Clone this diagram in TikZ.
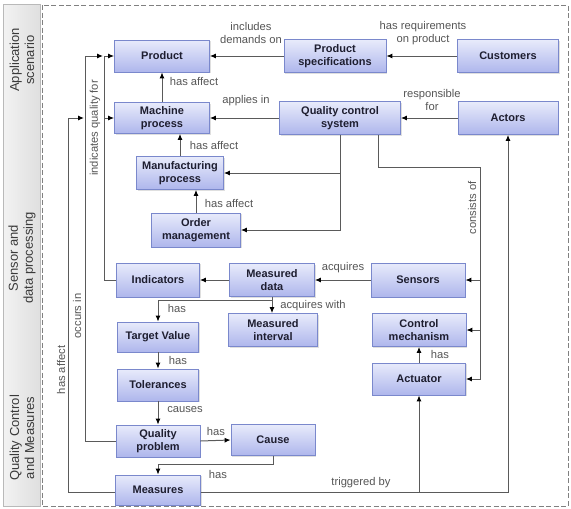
\documentclass[tikz,border=0pt]{standalone}
\usepackage{fontspec}
\setmainfont{Liberation Sans}
\usetikzlibrary{arrows.meta,shadows,calc}
\definecolor{nodeborder}{HTML}{7A88CC}
\definecolor{nodetop}{HTML}{E8EBFB}
\definecolor{nodebot}{HTML}{AEB6EC}
\definecolor{linecol}{HTML}{5A5A5A}
\definecolor{labcol}{HTML}{555555}
\definecolor{txtcol}{HTML}{1E1E30}
\definecolor{bandtxt}{HTML}{3A3A3A}
\tikzset{
  box/.style={draw=nodeborder, line width=0.8pt, top color=nodetop, bottom color=nodebot,
    align=center, inner sep=1pt, font=\fontsize{11}{12.8}\selectfont\bfseries, text=txtcol,
    drop shadow={opacity=0.25, shadow xshift=1.2pt, shadow yshift=-1.2pt}},
  arr/.style={draw=linecol, line width=1pt, -{Latex[length=6pt,width=5pt,color=black]}},
  lab/.style={font=\fontsize{11.2}{13}\selectfont, text=labcol, align=center, inner sep=1pt},
  sectxt/.style={font=\fontsize{13}{15}\selectfont, text=bandtxt, rotate=90, align=center},
}
\begin{document}
\begin{tikzpicture}[x=1pt,y=-1pt]
\useasboundingbox (0,0) rectangle (571,509);
% band and frame
\draw[draw=gray!55, left color=gray!10, right color=gray!25] (3,4) rectangle (40,506);
\draw[gray, line width=0.9pt, dash pattern=on 5pt off 2.5pt] (42,5) rectangle (568,506);
\node[sectxt] (s1) at (22,60) {Application\\scenario};
\node[sectxt] (s2) at (22,258) {Sensor and\\data processing};
\node[sectxt] (s3) at (22,438) {Quality Control\\and Measures};

% nodes
\node[box, minimum width=95pt, minimum height=32pt] (prod) at (162,56) {Product};
\node[box, minimum width=102pt, minimum height=33pt] (pspec) at (335,56) {Product\\specifications};
\node[box, minimum width=101pt, minimum height=33pt] (cust) at (508,56) {Customers};
\node[box, minimum width=95pt, minimum height=31pt] (mach) at (162,118) {Machine\\process};
\node[box, minimum width=121pt, minimum height=33pt] (qcs) at (340,118) {Quality control\\system};
\node[box, minimum width=100pt, minimum height=33pt] (act) at (508,118) {Actors};
\node[box, minimum width=87pt, minimum height=33pt] (manuf) at (180,173) {Manufacturing\\process};
\node[box, minimum width=89pt, minimum height=34pt] (order) at (196,230) {Order\\management};
\node[box, minimum width=83pt, minimum height=34pt] (ind) at (158,280) {Indicators};
\node[box, minimum width=85pt, minimum height=33pt] (mdata) at (272,280) {Measured\\data};
\node[box, minimum width=94pt, minimum height=34pt] (sens) at (418,280) {Sensors};
\node[box, minimum width=81pt, minimum height=30pt] (target) at (158,337) {Target Value};
\node[box, minimum width=89pt, minimum height=33pt] (minterv) at (273,330) {Measured\\interval};
\node[box, minimum width=94pt, minimum height=33pt] (ctrl) at (419,330) {Control\\mechanism};
\node[box, minimum width=81pt, minimum height=32pt] (tol) at (158,385) {Tolerances};
\node[box, minimum width=93pt, minimum height=32pt] (actu) at (419,379) {Actuator};
\node[box, minimum width=84pt, minimum height=32pt] (qp) at (158,441) {Quality\\problem};
\node[box, minimum width=84pt, minimum height=31pt] (cause) at (273,440) {Cause};
\node[box, minimum width=85pt, minimum height=30pt] (meas) at (158,490) {Measures};

% helper coordinates
\coordinate (occend) at (103,56);
\coordinate (haend) at (84,118);
\coordinate (cc) at (480,167);
\coordinate (mright) at ($(meas.east)+(0,2)$);
\coordinate (mleft) at ($(meas.west)+(0,2)$);

% connectors
\draw[arr] (pspec.west) -- (prod.east);
\draw[arr] (cust.west) -- (pspec.east);
\draw[arr] (mach.north) -- (prod.south);
\draw[arr] (qcs.west) -- (mach.east);
\draw[arr] (act.west) -- (qcs.east);
\draw[arr] (manuf.north) -- (manuf.north |- mach.south);
\draw[arr] (order.north) -- (order.north |- manuf.south);
\draw[arr] (qcs.south) |- (order.east);
\draw[arr] (qcs.south |- manuf.east) -- (manuf.east);
\draw[arr] ($(qcs.south)+(38,0)$) |- (cc) |- (actu.east);
\draw[arr] (cc |- sens.east) -- (sens.east);
\draw[arr] (cc |- ctrl.east) -- (ctrl.east);
\draw[arr] (mright) -| (act.south);
\draw[arr] (actu.south |- mright) -- (actu.south);
\draw[arr] (mleft) -| (68,118) -- (haend);
\draw[arr] (qp.west) -| (85,56) -- (occend);
\draw[arr] (ind.west) -| (104,56) -- (prod.west);
\draw[arr] (104,118) -- (mach.west);
\draw[arr] (mdata.west) -- (ind.east);
\draw[arr] (sens.west) -- (mdata.east);
\draw[arr] (mdata.south) -- (mdata.south |- minterv.north);
\draw[arr] (mdata.south) -- ++(0,4) -| (target.north);
\draw[arr] (target.south) -- (tol.north);
\draw[arr] (tol.south) -- (qp.north);
\draw[arr] (qp.east) -- (cause.west);
\draw[arr] (cause.south) -- ++(0,9) -| (meas.north);
\draw[arr] (actu.north) -- (ctrl.south);

% labels
\node[lab] (l1) at (251,33) {includes\\demands on};
\node[lab] (l2) at (423,33) {has requirements\\on product};
\node[lab] (l3) at (194,81) {has affect};
\node[lab] (l4) at (246,101) {applies in};
\node[lab] (l5) at (432,100) {responsible\\for};
\node[lab] (l6) at (214,145) {has affect};
\node[lab] (l7) at (229,203) {has affect};
\node[lab, rotate=90] (l8) at (472,208) {consists of};
\node[lab, rotate=90] (l9) at (95,128) {indicates quality for};
\node[lab, rotate=90] (l10) at (77,316) {occurs in};
\node[lab, rotate=90] (l11) at (61,370) {has affect};
\node[lab] (l12) at (343,268) {acquires};
\node[lab] (l13) at (313,306) {acquires with};
\node[lab] (l14) at (177,308) {has};
\node[lab] (l15) at (178,360) {has};
\node[lab] (l16) at (185,410) {causes};
\node[lab] (l17) at (216,431) {has};
\node[lab] (l18) at (218,474) {has};
\node[lab] (l19) at (440,354) {has};
\node[lab] (l20) at (361,483) {triggered by};
\end{tikzpicture}
\end{document}
